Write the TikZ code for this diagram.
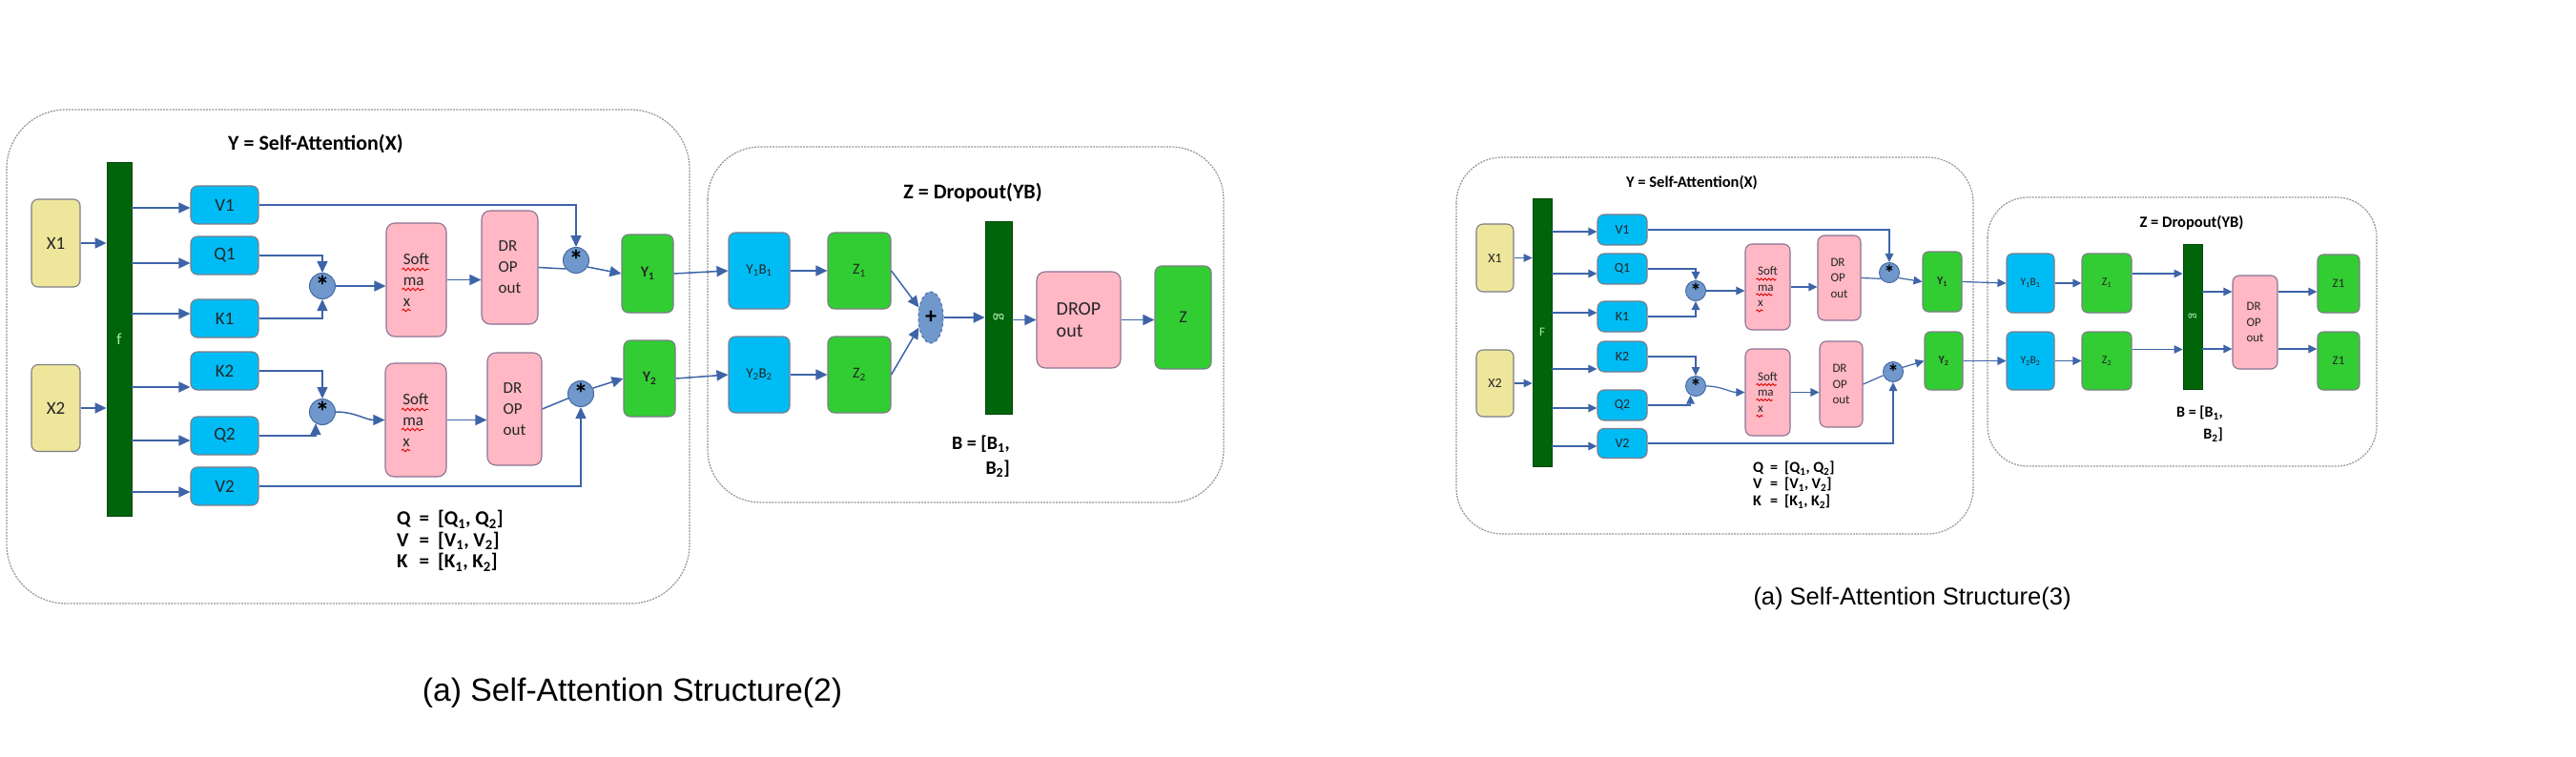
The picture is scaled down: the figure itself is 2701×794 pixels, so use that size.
\documentclass[tikz,border=0pt]{standalone}
\usepackage{fontspec}
\setmainfont{Carlito}
\newfontfamily\capfont{Liberation Sans}
\usetikzlibrary{arrows.meta,shapes.geometric,decorations.pathmorphing,calc}
\definecolor{xyellow}{RGB}{238,230,155}
\definecolor{bargreen}{RGB}{0,100,10}
\definecolor{barlbl}{RGB}{165,235,165}
\definecolor{qcyan}{RGB}{0,188,245}
\definecolor{spink}{RGB}{255,184,196}
\definecolor{spinkedge}{RGB}{140,115,150}
\definecolor{ygreen}{RGB}{50,205,50}
\definecolor{multblue}{RGB}{112,152,205}
\definecolor{multedge}{RGB}{70,105,165}
\definecolor{arrowblue}{RGB}{62,100,168}
\definecolor{boxedge}{RGB}{125,125,135}
\definecolor{framegray}{RGB}{150,150,150}
\newcommand{\fs}[2]{\fontsize{#1}{#2}\selectfont}

\begin{document}
\begin{tikzpicture}[x=1pt, y=-1pt, >={Triangle[width=11pt,length=12pt]},
    panelframe/.style={draw=framegray, line width=1.2pt, dash pattern=on 2pt off 1.2pt},
    sz/.style 2 args={minimum width=#1, minimum height=#2},
    blk/.style={draw=boxedge, line width=1.1pt, rounded corners=7pt, inner sep=0pt, text=black!85},
    xin/.style={blk, fill=xyellow},
    bar/.style={fill=bargreen, draw=bargreen!70!black, line width=0.8pt, inner sep=0pt, text=barlbl},
    qkv/.style={blk, fill=qcyan},
    soft/.style={blk, fill=spink, draw=spinkedge, rounded corners=9pt, align=left},
    ybox/.style={blk, fill=ygreen},
    mult/.style={circle, fill=multblue, draw=multedge, line width=1pt, inner sep=0pt},
    arr/.style={->, draw=arrowblue, line width=1.5pt},
    wire/.style={draw=arrowblue, line width=1.5pt},
    squig/.style={draw=red!85!black, line width=0.9pt, decorate,
      decoration={snake, segment length=5pt, amplitude=1.3pt}},
  ]
  \useasboundingbox (0,0) rectangle (2701,794);
  \fill[white] (0,0) rectangle (2701,794);

  % ---- (a) Self-Attention Structure(2)
  \draw[panelframe, rounded corners=62pt] (7,115) rectangle (723,633);
  \draw[panelframe, rounded corners=55pt] (742,154) rectangle (1283,527);
  \node[font=\bfseries\fs{22}{26}] (ttlY) at (331,151) {Y = Self-Attention(X)};
  \node[font=\bfseries\fs{22}{26}] (ttlZ) at (1020,202) {Z = Dropout(YB)};

  \node[xin, sz={51pt}{92pt}, font=\fs{19}{22}] (X1) at (58.5,255) {X1};
  \node[xin, sz={51pt}{91pt}, font=\fs{19}{22}] (X2) at (58.5,428) {X2};
  \node[bar, sz={26pt}{371pt}, font=\fs{17}{20}] (f) at (125,355.5) {f};
  \node[qkv, sz={71pt}{40pt}, font=\fs{19}{22}] (V1) at (235.5,215) {V1};
  \node[qkv, sz={71pt}{40pt}, font=\fs{19}{22}] (Q1) at (235.5,268) {Q1};
  \node[qkv, sz={71pt}{40pt}, font=\fs{19}{22}] (K1) at (235.5,334) {K1};
  \node[qkv, sz={71pt}{40pt}, font=\fs{19}{22}] (K2) at (235.5,389) {K2};
  \node[qkv, sz={71pt}{40pt}, font=\fs{19}{22}] (Q2) at (235.5,457) {Q2};
  \node[qkv, sz={71pt}{40pt}, font=\fs{19}{22}] (V2) at (235.5,510) {V2};
  \node[mult, minimum size=27pt, font=\bfseries\fs{30}{30}] (m1) at (338,300) {*};
  \node[mult, minimum size=27pt, font=\bfseries\fs{30}{30}] (m2) at (338,432) {*};
  \node[soft, sz={63pt}{119pt}, font=\fs{17}{22}] (sm1) at (436.5,293.5) {Soft\\ma\\x};
  \node[soft, sz={64pt}{119pt}, font=\fs{17}{22}] (sm2) at (436,440.5) {Soft\\ma\\x};
  \node[soft, sz={59pt}{119pt}, font=\fs{17}{22}] (do1) at (534.5,280.5) {DR\\OP\\out};
  \node[soft, sz={57pt}{118pt}, font=\fs{17}{22}] (do2) at (539.5,429) {DR\\OP\\out};
  \node[mult, minimum size=27pt, font=\bfseries\fs{30}{30}] (m3) at (604,273) {*};
  \node[mult, minimum size=27pt, font=\bfseries\fs{30}{30}] (m4) at (609,413) {*};
  \node[ybox, sz={54pt}{82pt}, font=\bfseries\fs{16}{20}] (y1) at (679,287) {Y\textsubscript{1}};
  \node[ybox, sz={54pt}{80pt}, font=\bfseries\fs{16}{20}] (y2) at (681,397) {Y\textsubscript{2}};
  \node[anchor=north west, inner sep=0pt, font=\bfseries\fs{21}{22.5}] (legend) at (416,535)
    {\begin{tabular}{@{}l@{\hspace{9pt}}c@{\hspace{9pt}}l@{}}
      Q & = & [Q\textsubscript{1}, Q\textsubscript{2}]\\
      V & = & [V\textsubscript{1}, V\textsubscript{2}]\\
      K & = & [K\textsubscript{1}, K\textsubscript{2}]
    \end{tabular}};

  \node[qkv, sz={64pt}{80pt}, font=\fs{15}{18}] (yb1) at (796,284) {Y\textsubscript{1}B\textsubscript{1}};
  \node[qkv, sz={64pt}{80pt}, font=\fs{15}{18}] (yb2) at (796,393) {Y\textsubscript{2}B\textsubscript{2}};
  \node[ybox, sz={66pt}{80pt}, font=\fs{16}{20}] (z1) at (901,284) {Z\textsubscript{1}};
  \node[ybox, sz={66pt}{80pt}, font=\fs{16}{20}] (z2) at (901,393) {Z\textsubscript{2}};
  \node[ellipse, fill=multblue, draw=multedge, dashed, line width=1pt, inner sep=0pt,
    minimum width=26pt, minimum height=54pt, font=\bfseries\fs{24}{26}] (plus) at (976,333) {+};
  \node[bar, sz={28pt}{202pt}] (g) at (1047,333) {};
  \node[rotate=-90, text=barlbl, font=\fs{17}{20}] (glbl) at (g) {g};
  \node[soft, sz={88pt}{101pt}, font=\fs{20}{23}] (dout) at (1131,335.5) {DROP\\out};
  \node[ybox, sz={59pt}{108pt}, font=\fs{18}{20}] (zo) at (1240.5,333) {Z};
  \node[anchor=north east, inner sep=0pt, align=right, font=\bfseries\fs{20}{26}] (btext) at (1059,457)
    {B = [B\textsubscript{1},\\ B\textsubscript{2}]};

  \node[font=\capfont\fs{33.7}{40}] (cap2) at (663,727) {(a) Self-Attention Structure(2)};

  \draw[arr] (X1) -- (X1 -| f.west);
  \draw[arr] (X2) -- (X2 -| f.west);
  \foreach \n/\s in {V1/-3pt,Q1/-8pt,K1/5pt,K2/-17pt,Q2/-5pt,V2/-6pt} {
    \coordinate (\n-in) at ([yshift=\s]\n.west);
    \draw[arr] (f.east |- \n-in) -- (\n-in);
  }
  \draw[arr] (Q1.east) -| (m1.north);
  \draw[arr] (K1.east) -| (m1.south);
  \draw[arr] (m1.east) -- (m1.east -| sm1.west);
  \draw[arr] (sm1.east) -- (sm1.east -| do1.west);
  \draw[wire] (do1.east) -- (m3.220);
  \draw[arr] (m3.-30) -- (y1.west);
  \draw[arr] (V1.east) -| (m3.north);
  \draw[arr] (K2.east) -| (m2.north);
  \draw[arr] (Q2.east) -| (m2.240);
  \draw[arr] (m2.east) to[out=0, in=180] (sm2.west);
  \draw[arr] (sm2.east) -- (sm2.east -| do2.west);
  \draw[wire] (do2.east) -- (m4.200);
  \draw[arr] (m4.25) -- (y2.west);
  \draw[arr] (V2.east) -| (m4.south);
  \draw[arr] (y1.east) -- (yb1.west);
  \draw[arr] (y2.east) -- (yb2.west);
  \draw[arr] (yb1) -- (z1);
  \draw[arr] (yb2) -- (z2);
  \draw[arr] (z1.east) -- (plus.140);
  \draw[arr] (z2.east) -- (plus.220);
  \draw[arr] (plus) -- (plus -| g.west);
  \draw[arr] (g.east |- dout) -- (dout.west);
  \draw[arr] (dout) -- (dout -| zo.west);
  % spell-check marks
  \foreach \s in {sm1,sm2} {
    \draw[squig] ($(\s.center)+(-15,-11)$) -- ++(28,0);
    \draw[squig] ($(\s.center)+(-15,10)$) -- ++(23,0);
    \draw[squig] ($(\s.center)+(-15,32)$) -- ++(9,0);
  }

  % ---- (a) Self-Attention Structure(3)
  \begin{scope}[>={Triangle[width=8.5pt,length=9pt]},
      arr/.style={->, draw=arrowblue, line width=1.2pt},
      wire/.style={draw=arrowblue, line width=1.2pt}]
  \draw[panelframe, rounded corners=48pt] (1527,165) rectangle (2069,560);
  \draw[panelframe, rounded corners=42pt] (2084,207) rectangle (2492,489);
  \node[font=\bfseries\fs{16.5}{20}] (tttlY) at (1774,192) {Y = Self-Attention(X)};
  \node[font=\bfseries\fs{16.5}{20}] (tttlZ) at (2298,234) {Z = Dropout(YB)};

  \node[xin, sz={39pt}{71pt}, font=\fs{14}{17}] (tX1) at (1567.5,270.5) {X1};
  \node[xin, sz={39pt}{70pt}, font=\fs{14}{17}] (tX2) at (1567.5,402) {X2};
  \node[bar, sz={20pt}{281pt}, font=\fs{13}{16}] (tF) at (1617,348.5) {F};
  \node[qkv, sz={52pt}{32pt}, font=\fs{14}{17}] (tV1) at (1701,241) {V1};
  \node[qkv, sz={52pt}{32pt}, font=\fs{14}{17}] (tQ1) at (1701,282) {Q1};
  \node[qkv, sz={52pt}{32pt}, font=\fs{14}{17}] (tK1) at (1701,332) {K1};
  \node[qkv, sz={52pt}{32pt}, font=\fs{14}{17}] (tK2) at (1701,374) {K2};
  \node[qkv, sz={52pt}{32pt}, font=\fs{14}{17}] (tQ2) at (1701,425) {Q2};
  \node[qkv, sz={52pt}{31pt}, font=\fs{14}{17}] (tV2) at (1701,465) {V2};
  \node[mult, minimum size=21pt, font=\bfseries\fs{23}{23}] (tm1) at (1778,305) {*};
  \node[mult, minimum size=21pt, font=\bfseries\fs{23}{23}] (tm2) at (1778,405) {*};
  \node[soft, sz={47pt}{90pt}, rounded corners=7pt, font=\fs{13}{16.5}] (tsm1) at (1853.5,301) {Soft\\ma\\x};
  \node[soft, sz={47pt}{91pt}, rounded corners=7pt, font=\fs{13}{16.5}] (tsm2) at (1853.5,411.5) {Soft\\ma\\x};
  \node[soft, sz={45pt}{89pt}, rounded corners=7pt, font=\fs{13}{16.5}] (tdo1) at (1928.5,291.5) {DR\\OP\\out};
  \node[soft, sz={45pt}{90pt}, rounded corners=7pt, font=\fs{13}{16.5}] (tdo2) at (1930.5,403) {DR\\OP\\out};
  \node[mult, minimum size=21pt, font=\bfseries\fs{23}{23}] (tm3) at (1981,286) {*};
  \node[mult, minimum size=21pt, font=\bfseries\fs{23}{23}] (tm4) at (1985,390) {*};
  \node[ybox, sz={41pt}{63pt}, rounded corners=6pt, font=\bfseries\fs{12}{15}] (ty1) at (2036.5,295.5) {Y\textsubscript{1}};
  \node[ybox, sz={40pt}{61pt}, rounded corners=6pt, font=\bfseries\fs{12}{15}] (ty2) at (2038,378.5) {Y\textsubscript{2}};
  \node[anchor=north west, inner sep=0pt, font=\bfseries\fs{16}{17.5}] (tlegend) at (1838,483)
    {\begin{tabular}{@{}l@{\hspace{7pt}}c@{\hspace{7pt}}l@{}}
      Q & = & [Q\textsubscript{1}, Q\textsubscript{2}]\\
      V & = & [V\textsubscript{1}, V\textsubscript{2}]\\
      K & = & [K\textsubscript{1}, K\textsubscript{2}]
    \end{tabular}};

  \node[qkv, sz={50pt}{62pt}, rounded corners=6pt, font=\fs{11.5}{14}] (tyb1) at (2129,297) {Y\textsubscript{1}B\textsubscript{1}};
  \node[qkv, sz={50pt}{61pt}, rounded corners=6pt, font=\fs{11.5}{14}] (tyb2) at (2129,378.5) {Y\textsubscript{2}B\textsubscript{2}};
  \node[ybox, sz={52pt}{62pt}, rounded corners=6pt, font=\fs{12}{15}] (tz1) at (2209,297) {Z\textsubscript{1}};
  \node[ybox, sz={52pt}{61pt}, rounded corners=6pt, font=\fs{12}{15}] (tz2) at (2209,378.5) {Z\textsubscript{2}};
  \node[bar, sz={20pt}{152pt}] (tg) at (2299,332) {};
  \node[rotate=-90, text=barlbl, font=\fs{13}{16}] (tglbl) at (tg) {g};
  \node[soft, sz={47pt}{98pt}, rounded corners=7pt, font=\fs{13}{16.5}] (tdo) at (2364.5,338) {DR\\OP\\out};
  \node[ybox, sz={44pt}{61pt}, rounded corners=6pt, font=\fs{13}{16}] (tzo1) at (2452,297.5) {Z1};
  \node[ybox, sz={44pt}{61pt}, rounded corners=6pt, font=\fs{13}{16}] (tzo2) at (2452,378.5) {Z1};
  \node[anchor=north east, inner sep=0pt, align=right, font=\bfseries\fs{16}{23}] (tbtext) at (2331,426)
    {B = [B\textsubscript{1},\\ B\textsubscript{2}]};

  \node[font=\capfont\fs{25.5}{30}] (cap3) at (2005,628) {(a) Self-Attention Structure(3)};

  \draw[arr] (tX1) -- (tX1 -| tF.west);
  \draw[arr] (tX2) -- (tX2 -| tF.west);
  \foreach \n/\s in {tV1/-2pt,tQ1/-5pt,tK1/4pt,tK2/-13pt,tQ2/-3pt,tV2/-3pt} {
    \coordinate (\n-in) at ([yshift=\s]\n.west);
    \draw[arr] (tF.east |- \n-in) -- (\n-in);
  }
  \draw[arr] (tQ1.east) -| (tm1.north);
  \draw[arr] (tK1.east) -| (tm1.south);
  \draw[arr] (tm1.east) -- (tm1.east -| tsm1.west);
  \draw[arr] (tsm1.east) -- (tsm1.east -| tdo1.west);
  \draw[wire] (tdo1.east) -- (tm3.215);
  \draw[arr] (tm3.-30) -- (ty1.west);
  \draw[arr] (tV1.east) -| (tm3.north);
  \draw[arr] (tK2.east) -| (tm2.north);
  \draw[arr] (tQ2.east) -| (tm2.240);
  \draw[arr] (tm2.east) to[out=0, in=180] (tsm2.west);
  \draw[arr] (tsm2.east) -- (tsm2.east -| tdo2.west);
  \draw[wire] (tdo2.east) -- (tm4.200);
  \draw[arr] (tm4.25) -- (ty2.west);
  \draw[arr] (tV2.east) -| (tm4.south);
  \draw[arr] (ty1.east) -- (tyb1.west);
  \draw[arr] (ty2.east) -- (tyb2.west);
  \draw[arr] (tyb1) -- (tz1);
  \draw[arr] (tyb2) -- (tz2);
  \coordinate (tz1-out) at ([yshift=10pt]tz1.east);
  \coordinate (tz2-out) at ([yshift=12pt]tz2.east);
  \draw[arr] (tz1-out) -- (tz1-out -| tg.west);
  \draw[arr] (tz2-out) -- (tz2-out -| tg.west);
  \coordinate (tdo-in1) at ([yshift=32pt]tdo.west);
  \coordinate (tdo-in2) at ([yshift=-28pt]tdo.west);
  \coordinate (tdo-out1) at ([yshift=32pt]tdo.east);
  \coordinate (tdo-out2) at ([yshift=-28pt]tdo.east);
  \draw[arr] (tg.east |- tdo-in1) -- (tdo-in1);
  \draw[arr] (tg.east |- tdo-in2) -- (tdo-in2);
  \draw[arr] (tdo-out1) -- (tdo-out1 -| tzo1.west);
  \draw[arr] (tdo-out2) -- (tdo-out2 -| tzo2.west);
  \foreach \s in {tsm1,tsm2} {
    \draw[squig, decoration={snake, segment length=4pt, amplitude=1pt}] ($(\s.center)+(-12,-8)$) -- ++(21,0);
    \draw[squig, decoration={snake, segment length=4pt, amplitude=1pt}] ($(\s.center)+(-12,8)$) -- ++(17,0);
    \draw[squig, decoration={snake, segment length=4pt, amplitude=1pt}] ($(\s.center)+(-12,25)$) -- ++(7,0);
  }
  \end{scope}
\end{tikzpicture}
\end{document}
